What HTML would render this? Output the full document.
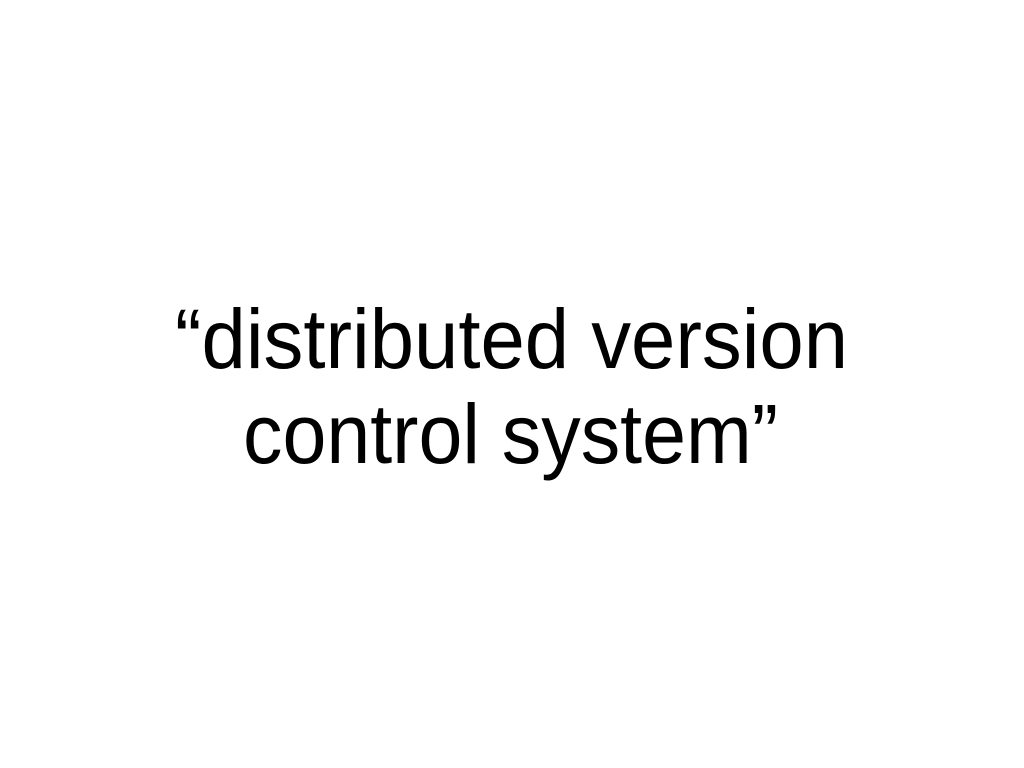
<!DOCTYPE html>
<html><head><meta charset="utf-8"><style>html,body{margin:0;padding:0;background:#fff;width:1024px;height:768px;overflow:hidden}</style></head>
<body>
<svg width="1024" height="768" xmlns="http://www.w3.org/2000/svg">
<rect width="1024" height="768" fill="#fff"/>
<text x="175" y="368" font-family="Liberation Sans, sans-serif" font-size="84" fill="#000" textLength="673" lengthAdjust="spacingAndGlyphs">“distributed version</text>
<text x="243" y="463" font-family="Liberation Sans, sans-serif" font-size="84" fill="#000" textLength="535" lengthAdjust="spacingAndGlyphs">control system”</text>
</svg>
</body></html>
